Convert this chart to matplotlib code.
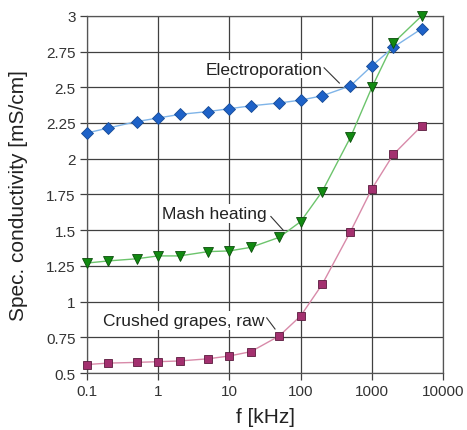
import numpy as np
import matplotlib.pyplot as plt
from matplotlib.ticker import FixedLocator, NullLocator
from matplotlib.transforms import offset_copy

plt.rcParams['font.family'] = ['Liberation Sans', 'DejaVu Sans']

freq = [0.1, 0.2, 0.5, 1, 2, 5, 10, 20, 50, 100, 200, 500, 1000, 2000, 5000]
electro = [2.18, 2.215, 2.26, 2.285, 2.31, 2.33, 2.35, 2.37, 2.39, 2.41, 2.44, 2.51, 2.65, 2.78, 2.91]
mash = [1.27, 1.285, 1.30, 1.32, 1.32, 1.35, 1.355, 1.38, 1.45, 1.56, 1.77, 2.15, 2.50, 2.81, 3.0]
raw = [0.56, 0.57, 0.575, 0.58, 0.585, 0.60, 0.62, 0.65, 0.76, 0.90, 1.12, 1.49, 1.79, 2.03, 2.23]

xticks = [0.1, 1, 10, 100, 1000, 10000]
xlabels = ['0.1', '1', '10', '100', '1000', '10000']
yticks = [0.5, 0.75, 1, 1.25, 1.5, 1.75, 2, 2.25, 2.5, 2.75, 3]
ylabels = ['0.5', '0.75', '1', '1.25', '1.5', '1.75', '2', '2.25', '2.5', '2.75', '3']

fig = plt.figure(figsize=(4.67, 4.31), dpi=100)
ax = fig.add_axes([0.186, 0.132, 0.763, 0.829])

ax.plot(freq, electro, '-', color='#7fb4e8', lw=1.0, zorder=3, clip_on=False)
ax.plot(freq, electro, 'D', ms=6, mfc='#1e62c8', mec='#164a94', mew=0.6, ls='none',
        zorder=4, clip_on=False)
ax.plot(freq, mash, '-', color='#6cc46c', lw=1.0, zorder=3, clip_on=False)
ax.plot(freq, mash, 'v', ms=7, mfc='#118a11', mec='#0b4d0b', mew=0.6, ls='none',
        zorder=4, clip_on=False)
ax.plot(freq, raw, '-', color='#d88aa9', lw=1.0, zorder=3, clip_on=False)
ax.plot(freq, raw, 's', ms=6.3, mfc='#a3306f', mec='#5a1a3d', mew=0.6, ls='none',
        zorder=4, clip_on=False)

ax.set_xscale('log')
ax.set_xlim(0.1, 10000)
ax.set_ylim(0.5, 3)
ax.xaxis.set_major_locator(FixedLocator(xticks))
ax.xaxis.set_minor_locator(NullLocator())
ax.set_xticklabels(xlabels)
ax.set_yticks(yticks)
ax.set_yticklabels(ylabels)
ax.grid(True, color='#404040', lw=0.9, zorder=1)
ax.set_axisbelow(True)
for s in ax.spines.values():
    s.set_color('#555555')
    s.set_linewidth(0.9)
ax.tick_params(direction='out', length=5, width=0.9, color='#404040',
               labelsize=11, labelcolor='#333333', pad=3)

ax.set_xlabel('f [kHz]', fontsize=15, color='#222222', labelpad=6)
ax.set_ylabel('Spec. conductivity [mS/cm]', fontsize=15, color='#222222', labelpad=13)

# labels with short leader lines (offsets in points from the marker)
box = dict(boxstyle='square,pad=0.1', fc='white', ec='none')
labels = [
    ('Electroporation', freq[11], electro[11], (-20, 12), (-19, 13), (-8, 2)),
    ('Mash heating', freq[8], mash[8], (-9, 17), (-6, 15), (3, 5)),
    ('Crushed grapes, raw', freq[8], raw[8], (-11, 11), (-9, 13), (-3, 5)),
]
for txt, fx, fy, toff, l0, l1 in labels:
    ax.annotate(txt, xy=(fx, fy), xytext=toff, textcoords='offset points',
                ha='right', va='center', fontsize=12.5, color='#222222',
                bbox=box, zorder=5)
    t0 = offset_copy(ax.transData, fig=fig, x=l0[0], y=l0[1], units='points')
    t1 = offset_copy(ax.transData, fig=fig, x=l1[0], y=l1[1], units='points')
    p0 = t0.transform((fx, fy))
    p1 = t1.transform((fx, fy))
    ax.plot([p0[0], p1[0]], [p0[1], p1[1]], color='#333333', lw=0.8,
            transform=None, zorder=5)

fig.savefig('out.png', dpi=100)
